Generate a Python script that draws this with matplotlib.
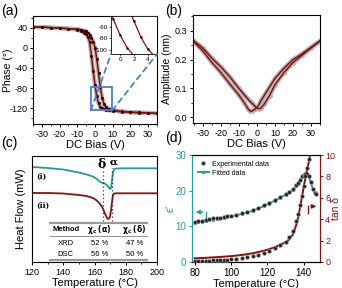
import matplotlib
matplotlib.use("Agg")
import matplotlib.pyplot as plt
from matplotlib.patches import Rectangle, ConnectionPatch
from matplotlib.ticker import AutoMinorLocator

plt.rcParams['font.family'] = ['Liberation Sans', 'DejaVu Sans']
plt.rcParams['font.size'] = 7
plt.rcParams['axes.linewidth'] = 0.8
plt.rcParams['axes.unicode_minus'] = False

DARKRED = '#8b0f0f'
TEAL = '#1f9e9a'
BLUE = '#4a7fd6'
GREY = '#b5b5b5'

# ---- (a) phase loop ----
v_a = [-35, -30, -25, -20, -15, -10, -8, -6, -5, -4, -3, -2, -1, 0, 1, 2, 3, 4, 5, 6, 8, 10, 15, 20, 25, 30, 35]
phase_left = [41, 41, 40, 39, 38, 36, 33, 30, 27, 21, 11, -16, -46, -74, -96, -110, -117, -120, -122, -123, -124, -125, -127, -128, -129, -129, -130]
phase_right = [41, 41, 40, 39, 38, 37, 36, 34, 33, 30, 26, 20, 12, 0, -22, -50, -78, -99, -111, -117, -121, -123, -126, -127, -128, -129, -130]

# ---- (b) amplitude butterfly ----
v_b = [-35, -30, -25, -20, -15, -10, -7, -5, -4, -3, -2, -1, 0, 1, 2, 4, 7, 10, 15, 20, 25, 30, 35]
amp_a = [0.262, 0.23, 0.19, 0.155, 0.115, 0.077, 0.05, 0.03, 0.022, 0.021, 0.024, 0.028, 0.034, 0.042, 0.055, 0.075, 0.105, 0.135, 0.17, 0.2, 0.22, 0.243, 0.265]
amp_b = [0.265, 0.24, 0.205, 0.175, 0.14, 0.1, 0.078, 0.063, 0.056, 0.05, 0.044, 0.037, 0.032, 0.03, 0.031, 0.045, 0.075, 0.113, 0.155, 0.19, 0.215, 0.24, 0.265]

# ---- (c) DSC ----
t_c = [120, 130, 140, 150, 155, 159, 161, 163, 164.5, 165.5, 166.5, 167.5, 168.5, 169.3, 170, 170.6, 171.2, 171.8, 172.5, 174, 180, 190, 200]
flow_i = [95, 94, 92.5, 89.5, 87.5, 85.5, 83.5, 81, 79.5, 79, 78.5, 77.5, 76, 74.5, 73, 74, 82, 89, 93, 93.5, 93.7, 93.7, 93.7]
flow_ii = [69, 69, 68.5, 67, 66, 64, 62, 59, 56, 53, 49, 45.5, 43, 43.5, 46, 52, 60, 67, 68.5, 68.7, 68.7, 68.7, 68.7]
delta_T = 165.5
alpha_T = 171
table_rows = [['Method', r'$\mathbf{\chi_c}$ $\mathbf{(\alpha)}$', r'$\mathbf{\chi_c}$ $\mathbf{(\delta)}$'],
              ['XRD', '52 %', '47 %'],
              ['DSC', '56 %', '50 %']]

# ---- (d) dielectric ----
t_exp = [80, 82, 84, 86, 88, 90, 92, 94, 96, 98, 100, 103, 106, 109, 112, 115, 118, 121, 124, 127, 130, 132, 134, 136, 137, 138, 139, 140, 141, 142, 143, 144, 145, 146, 147]
eps_exp = [11.2, 11.4, 11.6, 11.8, 12.0, 12.2, 12.3, 12.4, 12.6, 12.8, 13.0, 13.3, 13.7, 14.1, 14.6, 15.2, 15.9, 16.6, 17.4, 18.2, 19.1, 19.7, 20.5, 21.5, 22.2, 23.0, 24.0, 24.5, 24.7, 24.6, 24.0, 22.5, 20.5, 19.4, 19.0]
eps_fit = [10.9, 11.1, 11.3, 11.5, 11.7, 11.9, 12.1, 12.2, 12.4, 12.6, 12.8, 13.1, 13.5, 13.9, 14.4, 15.0, 15.7, 16.4, 17.2, 18.0, 18.9, 19.5, 20.3, 21.3, 22.0, 22.9, 23.8, 24.4, 24.6, 24.4, 23.7, 22.2, 20.6, 19.5, 19.0]
tan_exp = [0.1, 0.1, 0.11, 0.12, 0.13, 0.15, 0.16, 0.18, 0.2, 0.22, 0.25, 0.3, 0.36, 0.44, 0.55, 0.68, 0.85, 1.05, 1.3, 1.6, 1.9, 2.3, 2.9, 3.8, 4.5, 5.3, 6.2, 7.1, 8.0, 8.8, 9.6, 10.4, 11.2, 12.0, 12.8]
tan_fit = [0.35, 0.36, 0.37, 0.39, 0.41, 0.43, 0.45, 0.47, 0.5, 0.52, 0.55, 0.6, 0.66, 0.73, 0.82, 0.93, 1.05, 1.2, 1.38, 1.6, 1.85, 2.1, 2.55, 3.5, 4.2, 5.1, 6.0, 7.0, 7.9, 8.7, 9.5, 10.3, 11.1, 11.9, 12.7]

fig = plt.figure(figsize=(3.42, 2.88), dpi=100)


def style(ax, direction='out'):
    ax.tick_params(direction=direction, length=2.5, width=0.7, pad=1.5, labelsize=6.5,
                   top=False, right=False)
    ax.tick_params(which='minor', direction=direction, length=1.5, width=0.6,
                   top=False, right=False)


# (a)
axa = fig.add_axes([0.0965, 0.5694, 0.3626, 0.375])
axa.plot(v_a, phase_left, color=GREY, lw=3, solid_capstyle='round')
axa.plot(v_a, phase_right, color=GREY, lw=3, solid_capstyle='round')
axa.plot(v_a, phase_left, color=DARKRED, lw=1.1, marker='o', ms=1.2, mfc='#3a0000', mec='#3a0000')
axa.plot(v_a, phase_right, color=DARKRED, lw=1.1, marker='o', ms=1.2, mfc='#3a0000', mec='#3a0000')
axa.set_xlim(-35, 35)
axa.set_ylim(-151, 63)
axa.set_xticks([-30, -20, -10, 0, 10, 20, 30])
axa.set_yticks([40, 0, -40, -80, -120])
axa.xaxis.set_minor_locator(AutoMinorLocator(2))
axa.yaxis.set_minor_locator(AutoMinorLocator(2))
style(axa)
axa.set_xlabel('DC Bias (V)', fontsize=8, labelpad=1)
axa.set_ylabel('Phase (°)', fontsize=7.5)
axa.yaxis.set_label_coords(-0.165, 0.5)
rect = Rectangle((-2.3, -124), 12, 46, fill=False, ec=BLUE, lw=1.3, zorder=5)
axa.add_patch(rect)

ins = fig.add_axes([0.3246, 0.8125, 0.1345, 0.132])
ins.plot(v_a, phase_left, color=DARKRED, lw=0.9, marker='o', ms=0.8, mfc='#3a0000', mec='#3a0000')
ins.plot(v_a, phase_right, color=DARKRED, lw=0.9, marker='o', ms=0.8, mfc='#3a0000', mec='#3a0000')
ins.set_xlim(-1.3, 5.3)
ins.set_ylim(-107, -41)
ins.set_xticks([0, 2, 4])
ins.set_yticks([-60, -80, -100])
ins.tick_params(labelsize=4.5, length=1.5, width=0.5, pad=1, direction='out')
for s in ins.spines.values():
    s.set_linewidth(0.6)
for xy_main, xy_ins in [((-2.3, -124), (0, 0)), ((9.7, -124), (1, 0))]:
    con = ConnectionPatch(xyA=xy_main, coordsA=axa.transData, xyB=xy_ins, coordsB=ins.transAxes,
                          color=BLUE, lw=1.3, ls=(0, (3, 2.5)))
    fig.add_artist(con)

# (b)
axb = fig.add_axes([0.5643, 0.5729, 0.3714, 0.375])
axb.plot(v_b, amp_a, color=GREY, lw=3.2, marker='o', ms=2.5, mfc=GREY, mec=GREY)
axb.plot(v_b, amp_b, color=GREY, lw=3.2, marker='o', ms=2.5, mfc=GREY, mec=GREY)
axb.plot(v_b, amp_a, color=DARKRED, lw=1.1)
axb.plot(v_b, amp_b, color=DARKRED, lw=1.1)
axb.set_xlim(-35.5, 35)
axb.set_ylim(-0.02, 0.355)
axb.set_xticks([-30, -20, -10, 0, 10, 20, 30])
axb.set_yticks([0.0, 0.1, 0.2, 0.3])
axb.xaxis.set_minor_locator(AutoMinorLocator(2))
axb.yaxis.set_minor_locator(AutoMinorLocator(2))
style(axb)
axb.set_xlabel('DC Bias (V)', fontsize=8, labelpad=1)
axb.set_ylabel('Amplitude (nm)', fontsize=7.5, labelpad=2)

# (c)
axc = fig.add_axes([0.0936, 0.0903, 0.3655, 0.368])
axc.plot(t_c, flow_i, color=TEAL, lw=1.3)
axc.plot(t_c, flow_ii, color=DARKRED, lw=1.3)
axc.plot([delta_T, delta_T], [41, 94], color='#333333', lw=0.9, ls=(0, (1, 2)))
axc.plot([alpha_T, alpha_T], [41, 94], color='#333333', lw=0.9, ls=(0, (1, 2)))
axc.text(delta_T - 1, 98, 'δ', ha='center', va='center', fontsize=9, fontweight='bold',
         family='DejaVu Serif')
axc.text(alpha_T + 1.5, 100, 'α', ha='center', va='center', fontsize=7.5, fontweight='bold',
         family='DejaVu Serif')
axc.text(123, 85, '(i)', fontsize=5.5, fontweight='bold', family='DejaVu Serif', va='center')
axc.text(123, 56, '(ii)', fontsize=5.5, fontweight='bold', family='DejaVu Serif', va='center')
axc.set_xlim(120, 200)
axc.set_ylim(0, 106)
axc.set_xticks([120, 140, 160, 180, 200])
axc.set_yticks([])
axc.xaxis.set_minor_locator(AutoMinorLocator(2))
style(axc)
axc.set_xlabel('Temperature (°C)', fontsize=8, labelpad=1)
axc.set_ylabel('Heat Flow (mW)', fontsize=8, labelpad=4)
col_x = [0.27, 0.54, 0.82]
row_y = [0.302, 0.179, 0.075]
for r, row in enumerate(table_rows):
    for c, txt in enumerate(row):
        axc.text(col_x[c], row_y[r], txt, transform=axc.transAxes, ha='center', va='center',
                 fontsize=5.5, fontweight='bold' if r == 0 else 'normal')
for yy, lw in [(0.368, 1.6), (0.245, 0.8), (0.015, 1.6)]:
    axc.plot([0.145, 0.92], [yy, yy], transform=axc.transAxes, color='#999999', lw=lw)

# (d)
axd = fig.add_axes([0.5614, 0.0903, 0.3743, 0.3715])
axd2 = axd.twinx()
axd.plot(t_exp, eps_fit, color=TEAL, lw=1.4, marker='o', ms=1.3, zorder=2, label='Fitted data')
axd.plot(t_exp, eps_exp, ls='none', marker='o', ms=2.8, mfc='#222222', mec='#aaaaaa', mew=0.4,
         zorder=3, label='Experimental data')
axd2.plot(t_exp, tan_fit, color=DARKRED, lw=1.4, zorder=2)
axd2.plot(t_exp, tan_exp, ls='none', marker='o', ms=2.8, mfc='#222222', mec='#aaaaaa', mew=0.4, zorder=3)
axd.set_xlim(78.5, 149)
axd.set_ylim(0, 30)
axd2.set_ylim(0, 10)
axd.set_xticks([80, 100, 120, 140])
axd.set_yticks([0, 10, 20, 30])
axd2.set_yticks([0, 2, 4, 6, 8, 10])
axd.tick_params(direction='out', length=2.5, width=0.7, pad=1.5, labelsize=7, top=False)
axd.tick_params(axis='y', colors=TEAL, labelcolor=TEAL)
axd.tick_params(axis='x', colors='black')
axd2.tick_params(direction='out', length=2.5, width=0.7, pad=1.2, labelsize=6.5, colors=DARKRED)
axd2.spines['left'].set_color(TEAL)
axd2.spines['right'].set_color(DARKRED)
axd.spines['left'].set_color(TEAL)
axd.spines['right'].set_color(DARKRED)
axd.set_xlabel('Temperature (°C)', fontsize=8, labelpad=1)
axd.set_ylabel("ε'", fontsize=8, color=TEAL, labelpad=0)
axd2.set_ylabel('tan δ', fontsize=7.5, color=DARKRED, rotation=90)
axd2.yaxis.set_label_coords(1.085, 0.5)
axd2.yaxis.label.set_va('top')
handles, labels = axd.get_legend_handles_labels()
axd.legend(handles[::-1], labels[::-1], loc='upper left', fontsize=5, frameon=False,
           handlelength=1.6, handletextpad=0.5, borderpad=0.3, labelspacing=0.3)
axd.annotate('', xy=(79, 14), xytext=(86, 14),
             arrowprops=dict(arrowstyle='-|>', color=TEAL, lw=1, mutation_scale=6))
axd.plot([86, 86], [14, 12.3], color=TEAL, lw=1)
axd2.annotate('', xy=(148.5, 5.2), xytext=(142.5, 5.2),
              arrowprops=dict(arrowstyle='-|>', color=DARKRED, lw=1, mutation_scale=6))
axd2.plot([142.5, 142.5], [5.2, 4.6], color=DARKRED, lw=1)

fig.text(0.003, 0.962, '(a)', fontsize=10, va='center')
fig.text(0.482, 0.962, '(b)', fontsize=10, va='center')
fig.text(0.003, 0.503, '(c)', fontsize=10, va='center')
fig.text(0.482, 0.521, '(d)', fontsize=10, va='center')

fig.savefig('out.png', dpi=100)
